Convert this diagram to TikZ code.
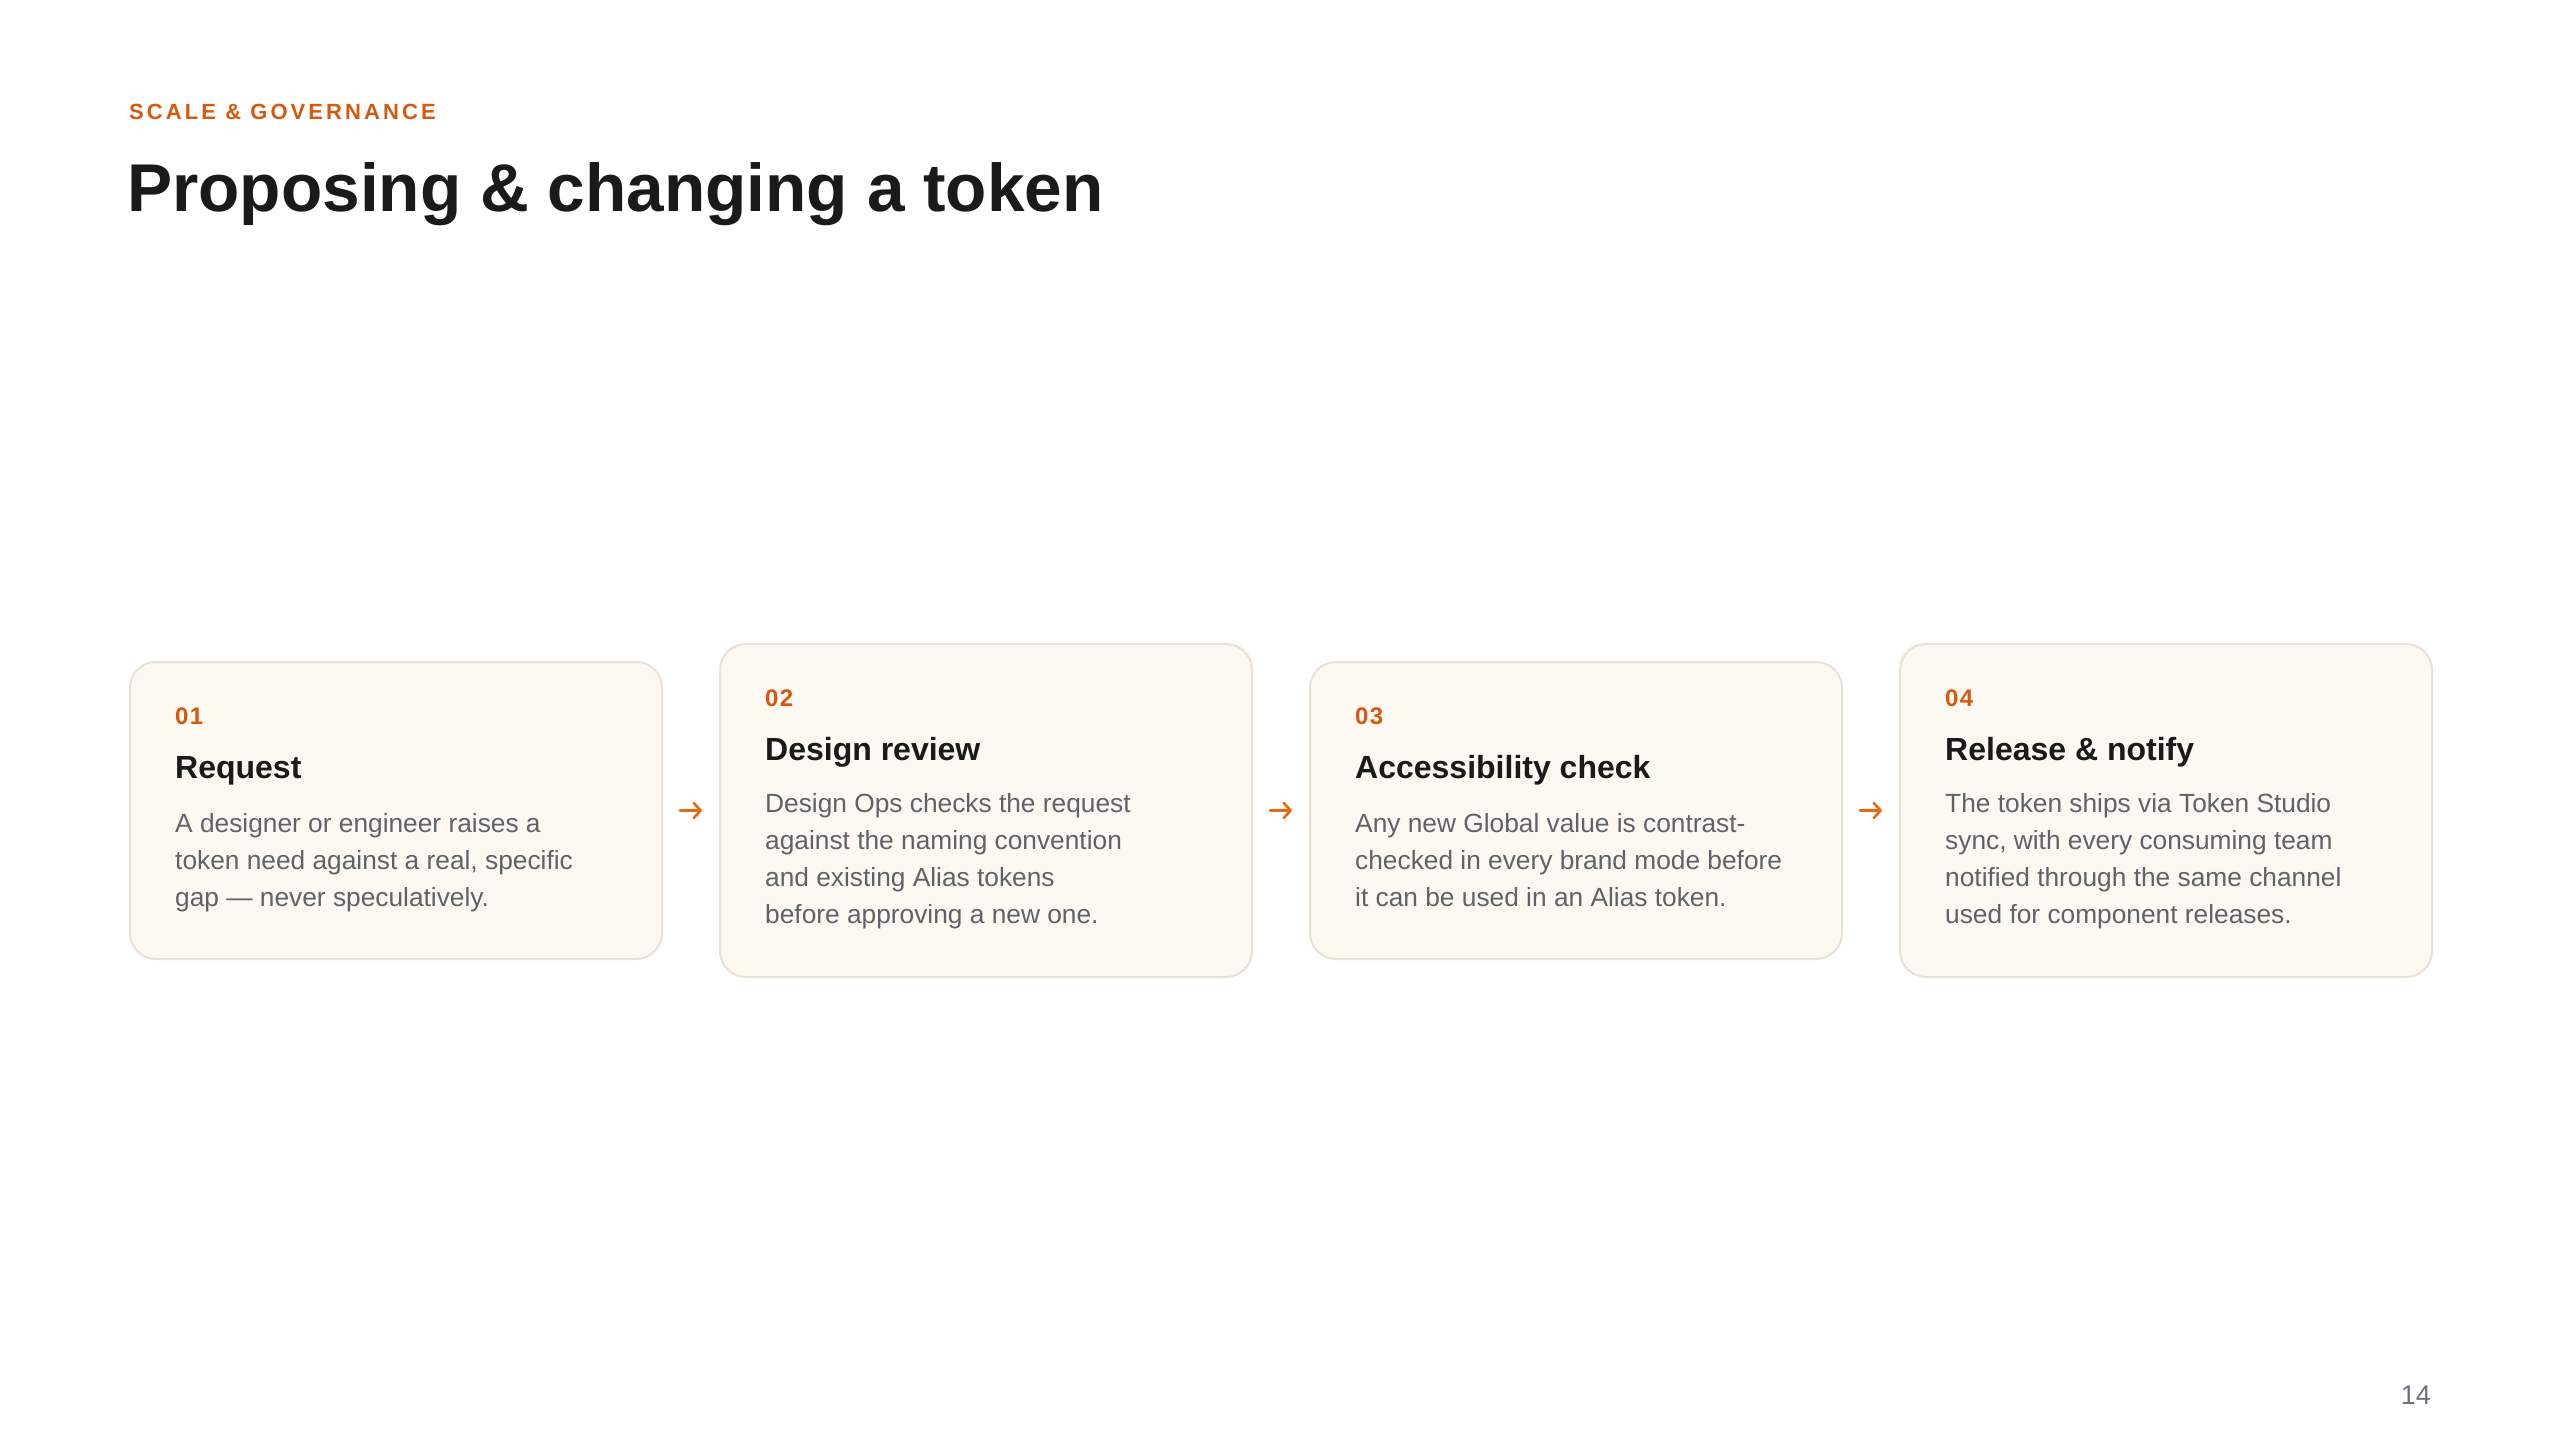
\documentclass[tikz,border=0pt]{standalone}
\usepackage{fontspec}
\setmainfont{Liberation Sans}
\newfontfamily\eyebrowfont[LetterSpace=14]{Liberation Sans}
\newfontfamily\numfont[LetterSpace=6]{Liberation Sans}
\usetikzlibrary{arrows.meta}
\definecolor{accent}{HTML}{D35A0E}
\definecolor{arrowc}{HTML}{E8680F}
\definecolor{ink}{HTML}{1A1A1A}
\definecolor{bodyc}{HTML}{5F6368}
\definecolor{cardfill}{HTML}{FDF8F2}
\definecolor{cardline}{HTML}{E9E1D8}
\definecolor{pagenum}{HTML}{6B7280}
\tikzset{
  card/.style={draw=cardline, fill=cardfill, line width=2pt, rounded corners=26pt,
    minimum width=532pt, inner sep=0pt, anchor=north west},
  cardshort/.style={card, minimum height=297pt},
  cardtall/.style={card, minimum height=333pt},
  num/.style={anchor=base west, inner sep=0pt, text=accent,
    font=\numfont\bfseries\fontsize{24}{28}\selectfont},
  ttl/.style={anchor=base west, inner sep=0pt, text=ink,
    font=\bfseries\fontsize{32}{38}\selectfont},
  body/.style={anchor=north west, inner sep=0pt, align=left, text=bodyc,
    font=\fontsize{26.3}{37}\selectfont},
  flow/.style={draw=arrowc, line width=2.6pt, line cap=round,
    -{Straight Barb[length=7pt,width=15pt,line join=round,line cap=round]},
    shorten <=17pt, shorten >=17pt},
}
\begin{document}
\begin{tikzpicture}[x=1pt,y=-1pt]
\useasboundingbox[fill=white] (0,0) rectangle (2560,1440);

\node[anchor=base west, inner sep=0pt, text=accent,
  font=\eyebrowfont\bfseries\fontsize{22}{26}\selectfont] (eyebrow) at (129,119) {SCALE \& GOVERNANCE};
\node[anchor=base west, inner sep=0pt, text=ink,
  font=\bfseries\fontsize{67.6}{80}\selectfont] (title) at (127,211) {Proposing \& changing a token};

% cards
\node[cardshort] (c1) at (129,661) {};
\node[cardtall]  (c2) at (719,643) {};
\node[cardshort] (c3) at (1309,661) {};
\node[cardtall]  (c4) at (1899,643) {};

% card 1
\node[num] (n1) at ([shift={(46,63)}]c1.north west) {01};
\node[ttl] (t1) at ([shift={(46,117)}]c1.north west) {Request};
\node[body] (b1) at ([shift={(46,145.6)}]c1.north west)
  {\strut A designer or engineer raises a\\token need against a real, specific\\gap — never speculatively.};

% card 2
\node[num] (n2) at ([shift={(46,63)}]c2.north west) {02};
\node[ttl] (t2) at ([shift={(46,117)}]c2.north west) {Design review};
\node[body] (b2) at ([shift={(46,143.6)}]c2.north west)
  {\strut Design Ops checks the request\\against the naming convention\\and existing Alias tokens\\before approving a new one.};

% card 3
\node[num] (n3) at ([shift={(46,63)}]c3.north west) {03};
\node[ttl] (t3) at ([shift={(46,117)}]c3.north west) {Accessibility check};
\node[body] (b3) at ([shift={(46,145.6)}]c3.north west)
  {\strut Any new Global value is contrast-\\checked in every brand mode before\\it can be used in an Alias token.};

% card 4
\node[num] (n4) at ([shift={(46,63)}]c4.north west) {04};
\node[ttl] (t4) at ([shift={(46,117)}]c4.north west) {Release \& notify};
\node[body] (b4) at ([shift={(46,143.6)}]c4.north west)
  {\strut The token ships via Token Studio\\sync, with every consuming team\\notified through the same channel\\used for component releases.};

% connectors
\draw[flow] (c1.east) -- (c2.west);
\draw[flow] (c2.east) -- (c3.west);
\draw[flow] (c3.east) -- (c4.west);

% page number
\node[anchor=base east, inner sep=0pt, text=pagenum,
  font=\fontsize{27}{32}\selectfont] (page) at (2431,1404) {14};
\end{tikzpicture}
\end{document}
